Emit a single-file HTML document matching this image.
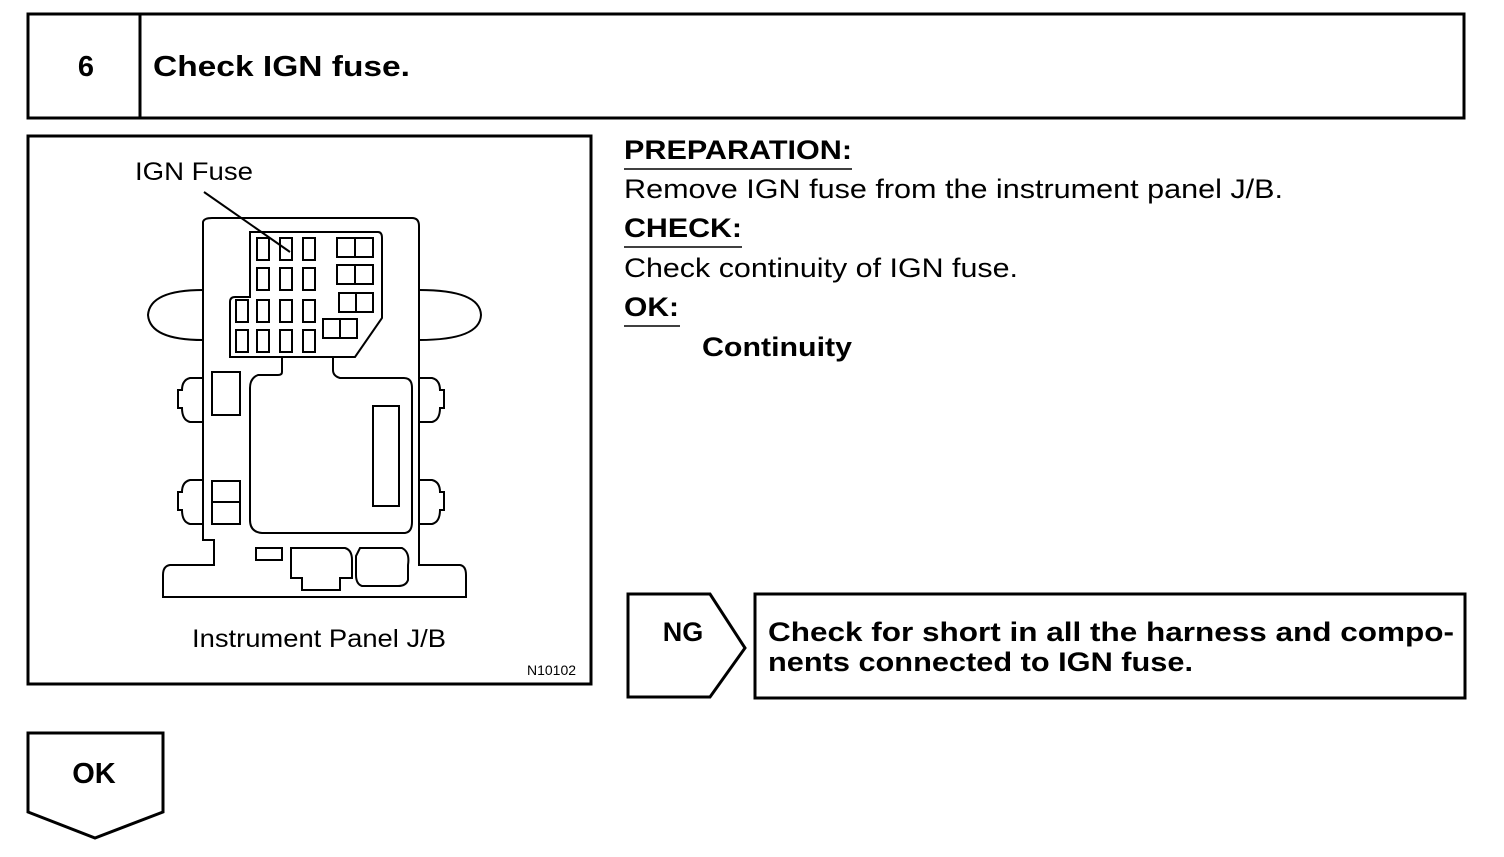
<!DOCTYPE html>
<html><head><style>
body{margin:0;background:#fff;}
svg text{font-family:"Liberation Sans",Arial,sans-serif;fill:#000;}
</style></head><body>
<svg width="1504" height="852" viewBox="0 0 1504 852" xmlns="http://www.w3.org/2000/svg">
<g fill="none" stroke="#000" stroke-width="3">
<rect x="28" y="14" width="1436" height="104"/>
<line x1="140" y1="14" x2="140" y2="118"/>
<rect x="28" y="136" width="563" height="548"/>
<path d="M628 594 H710 L745 648 L710 697 H628 Z"/>
<rect x="755" y="594" width="710" height="104"/>
<path d="M28 733 H163 V812 L95 838 L28 812 Z"/>
</g>
<text x="86" y="76" font-size="29" font-weight="bold" text-anchor="middle">6</text>
<text x="153" y="76" font-size="29" font-weight="bold" textLength="257" lengthAdjust="spacingAndGlyphs">Check IGN fuse.</text>
<g font-size="27">
<text x="624" y="159" font-weight="bold" textLength="228" lengthAdjust="spacingAndGlyphs">PREPARATION:</text>
<text x="624" y="198" textLength="659" lengthAdjust="spacingAndGlyphs">Remove IGN fuse from the instrument panel J/B.</text>
<text x="624" y="237" font-weight="bold" textLength="118" lengthAdjust="spacingAndGlyphs">CHECK:</text>
<text x="624" y="277" textLength="394" lengthAdjust="spacingAndGlyphs">Check continuity of IGN fuse.</text>
<text x="624" y="316" font-weight="bold" textLength="55" lengthAdjust="spacingAndGlyphs">OK:</text>
<text x="702" y="356" font-weight="bold" textLength="150" lengthAdjust="spacingAndGlyphs">Continuity</text>
</g>
<g stroke="#000" stroke-width="1.5">
<line x1="624" y1="169" x2="852" y2="169"/>
<line x1="624" y1="247" x2="742" y2="247"/>
<line x1="624" y1="326" x2="680" y2="326"/>
</g>
<text x="683" y="641" font-size="27" font-weight="bold" text-anchor="middle">NG</text>
<text x="768" y="641" font-size="27" font-weight="bold" textLength="686" lengthAdjust="spacingAndGlyphs">Check for short in all the harness and compo-</text>
<text x="768" y="671" font-size="27" font-weight="bold" textLength="425" lengthAdjust="spacingAndGlyphs">nents connected to IGN fuse.</text>
<text x="94" y="783" font-size="29" font-weight="bold" text-anchor="middle">OK</text>
<!-- diagram -->
<text x="135" y="180" font-size="25" textLength="118" lengthAdjust="spacingAndGlyphs">IGN Fuse</text>
<text x="192" y="647" font-size="25" textLength="254" lengthAdjust="spacingAndGlyphs">Instrument Panel J/B</text>
<text x="527" y="675" font-size="14">N10102</text>
<g fill="none" stroke="#000" stroke-width="2">
<line x1="204" y1="192" x2="290" y2="252"/>
<path d="M203 222 Q204 218 212 218 H412 Q419 218 419 226 V565 H460 Q466 566 466 575 V597 H163 V575 Q163 566 170 565 H214 V540 H203 Z"/>
<path d="M203 290 Q150 290 148 315 Q150 340 203 340"/>
<path d="M419 290 Q480 290 481 315 Q480 340 419 340"/>
<path d="M203 378 H190 Q182 380 182 390 H178 V408 H182 Q182 420 190 422 H203"/>
<path d="M203 480 H190 Q182 482 182 492 H178 V510 H182 Q182 522 190 524 H203"/>
<path d="M419 378 H432 Q440 380 440 390 H444 V408 H440 Q440 420 432 422 H419"/>
<path d="M419 480 H432 Q440 482 440 492 H444 V510 H440 Q440 522 432 524 H419"/>
<path d="M250 232 H378 Q382 232 382 238 V318 L355 357 H230 V302 Q230 297 235 297 H250 Z"/>
<path d="M282 357 V372 Q282 375 278 375 H258 Q250 378 250 388 V520 Q250 532 262 533 H405 Q412 532 412 522 V388 Q412 378 404 378 H340 Q333 376 333 370 V357"/>
<rect x="212" y="372" width="28" height="43"/>
<rect x="212" y="481" width="28" height="43"/>
<line x1="212" y1="502" x2="240" y2="502"/>
<rect x="373" y="406" width="26" height="100"/>
<path d="M291 548 H345 Q352 550 352 560 V578 H340 V590 H302 V578 H291 Z"/>
<path d="M360 548 H402 Q410 552 408 565 V580 Q406 586 398 586 H362 Q356 584 356 575 V556 Z"/>
<rect x="256" y="548" width="26" height="12"/>
</g>
<g fill="none" stroke="#000" stroke-width="2">
<rect x="257" y="238" width="12" height="22"/><rect x="280" y="238" width="12" height="22"/><rect x="303" y="238" width="12" height="22"/>
<rect x="257" y="268" width="12" height="22"/><rect x="280" y="268" width="12" height="22"/><rect x="303" y="268" width="12" height="22"/>
<rect x="236" y="300" width="12" height="22"/><rect x="257" y="300" width="12" height="22"/><rect x="280" y="300" width="12" height="22"/><rect x="303" y="300" width="12" height="22"/>
<rect x="236" y="330" width="12" height="22"/><rect x="257" y="330" width="12" height="22"/><rect x="280" y="330" width="12" height="22"/><rect x="303" y="330" width="12" height="22"/>
<rect x="337" y="238" width="36" height="19"/><rect x="337" y="265" width="36" height="19"/><rect x="339" y="293" width="34" height="19"/><rect x="323" y="319" width="34" height="19"/>
<line x1="355" y1="238" x2="355" y2="257"/><line x1="355" y1="265" x2="355" y2="284"/><line x1="356" y1="293" x2="356" y2="312"/><line x1="340" y1="319" x2="340" y2="338"/>
</g>
</svg>
</body></html>
